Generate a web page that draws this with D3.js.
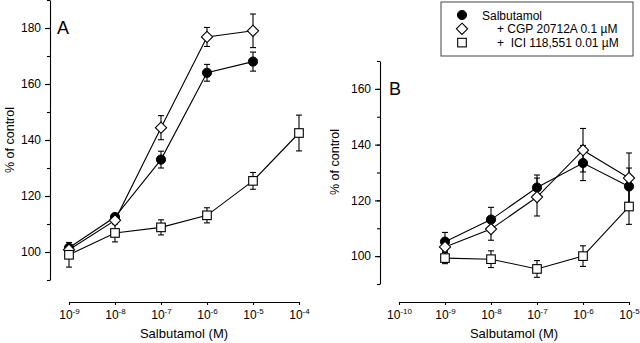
<!DOCTYPE html>
<html>
<head>
<meta charset="utf-8">
<script src="https://cdn.jsdelivr.net/npm/d3@7"></script>
<style>
  body { margin: 0; background: #fff; }
  svg { display: block; font-family: "Liberation Sans", Arial, sans-serif; }
</style>
</head>
<body>
<div id="chart"></div>
<script>
// concentrations (M)
const concA = [1e-9, 1e-8, 1e-7, 1e-6, 1e-5];
const concIciA = [1e-9, 1e-8, 1e-7, 1e-6, 1e-5, 1e-4];
const concB = [1e-9, 1e-8, 1e-7, 1e-6, 1e-5];

// panel A
const salA = [101.5, 112.5, 133, 164, 168];
const salAErr = [1, 1, 3, 3, 3.4];
const cgpA = [100.8, 111.3, 144.4, 176.8, 179];
const cgpAErr = [1, 1, 4.3, 3.4, 6];
const iciA = [99, 106.8, 108.8, 113.1, 125.4, 142.5];
const iciAErr = [4.4, 3.2, 2.7, 2.7, 3, 6.4];

// panel B
const salB = [105.2, 113.1, 124.6, 133.4, 125];
const salBErr = [3.3, 4.4, 4.5, 6.3, 6.6];
const cgpB = [103.3, 109.7, 121.2, 138, 128];
const cgpBErr = [1.5, 4, 6.8, 7.8, 9];
const iciB = [99.3, 98.9, 95.4, 100, 117.8];
const iciBErr = [2, 3, 3, 3.7, 6.4];

const legendLabels = ["Salbutamol", "+ CGP 20712A 0.1 \u00b5M", "+  ICI 118,551 0.01 \u00b5M"];
const yTicksA = [100, 120, 140, 160, 180];
const yTicksB = [100, 120, 140, 160];

const width = 640, height = 343;

const svg = d3.select("#chart").append("svg")
    .attr("width", width)
    .attr("height", height);

function zip(xs, ys, es) {
    return xs.map(function (x, i) { return {x: x, y: ys[i], e: es[i]}; });
}

function drawMarker(g, kind, cx, cy) {
    if (kind === "circle") {
        g.append("circle").attr("cx", cx).attr("cy", cy).attr("r", 4.6)
            .attr("fill", "#000").attr("stroke", "#000").attr("stroke-width", 1);
    } else if (kind === "diamond") {
        const s = 5.6;
        g.append("path")
            .attr("d", "M" + cx + "," + (cy - s) + "L" + (cx + s) + "," + cy + "L" + cx + "," + (cy + s) + "L" + (cx - s) + "," + cy + "Z")
            .attr("fill", "#fff").attr("stroke", "#000").attr("stroke-width", 1.1);
    } else {
        const s = 4.3;
        g.append("rect").attr("x", cx - s).attr("y", cy - s).attr("width", 2 * s).attr("height", 2 * s)
            .attr("fill", "#fff").attr("stroke", "#000").attr("stroke-width", 1.1);
    }
}

function drawPanel(p) {
    const x = d3.scaleLog().domain(p.xDomain).range(p.xRange);
    const y = d3.scaleLinear().domain(p.yDomain).range(p.yRange);
    const g = svg.append("g");

    // y axis, minor ticks every 10
    const yAxis = d3.axisLeft(y)
        .tickValues(d3.range(p.yDomain[0], p.yDomain[1] + 1, 10))
        .tickSize(3)
        .tickFormat("")
        .tickSizeOuter(0);
    g.append("g").attr("transform", "translate(" + p.yAxisX + ",0)").call(yAxis);
    const yMajor = d3.axisLeft(y).tickValues(p.yTicks).tickSize(5).tickPadding(4).tickSizeOuter(0);
    const ym = g.append("g").attr("transform", "translate(" + p.yAxisX + ",0)").call(yMajor);
    ym.select(".domain").remove();

    // x axis with decade ticks
    const decades = d3.range(Math.log10(p.xDomain[0]), Math.log10(p.xDomain[1]) + 1).map(function (k) { return Math.pow(10, k); });
    const xAxis = d3.axisBottom(x).tickValues(decades).tickSize(3).tickSizeOuter(0).tickFormat("");
    const xa = g.append("g").attr("transform", "translate(0," + p.xAxisY + ")").call(xAxis);

    xa.selectAll(".tick").each(function (d) {
        const t = d3.select(this).append("text")
            .attr("y", 17)
            .attr("fill", "#000")
            .attr("text-anchor", "middle")
            .style("font-size", "12px");
        t.append("tspan").text("10");
        t.append("tspan").attr("dy", -5).style("font-size", "8px").text(Math.round(Math.log10(d)));
    });

    g.selectAll(".tick text").style("font-size", "12px");
    g.selectAll(".domain, .tick line").attr("stroke", "#000").attr("stroke-width", 1.1);

    // axis titles
    g.append("text")
        .attr("x", (p.xRange[0] + p.xRange[1]) / 2)
        .attr("y", 338)
        .attr("text-anchor", "middle")
        .style("font-size", "13px")
        .text("Salbutamol (M)");
    g.append("text")
        .attr("transform", "translate(" + p.yLabelX + "," + p.yLabelY + ") rotate(-90)")
        .attr("text-anchor", "middle")
        .style("font-size", "12.5px")
        .text("% of control");

    // panel letter
    g.append("text")
        .attr("x", p.letterX).attr("y", p.letterY)
        .style("font-size", "18px")
        .text(p.letter);

    const line = d3.line()
        .x(function (d) { return x(d.x); })
        .y(function (d) { return y(d.y); });

    p.series.forEach(function (s) {
        g.append("path").datum(s.data)
            .attr("fill", "none").attr("stroke", "#000").attr("stroke-width", 1.1)
            .attr("d", line);
    });

    // error bars
    p.series.forEach(function (s) {
        s.data.forEach(function (d) {
            const cx = x(d.x), y0 = y(d.y - d.e), y1 = y(d.y + d.e);
            g.append("line").attr("x1", cx).attr("x2", cx).attr("y1", y0).attr("y2", y1)
                .attr("stroke", "#000").attr("stroke-width", 1.1);
            [y0, y1].forEach(function (yy) {
                g.append("line").attr("x1", cx - 3).attr("x2", cx + 3).attr("y1", yy).attr("y2", yy)
                    .attr("stroke", "#000").attr("stroke-width", 1.1);
            });
        });
    });

    p.series.forEach(function (s) {
        s.data.forEach(function (d) {
            drawMarker(g, s.marker, x(d.x), y(d.y));
        });
    });
}

drawPanel({
    xDomain: [1e-9, 1e-4], xRange: [69, 299],
    yDomain: [90, 190], yRange: [280, 0],
    yTicks: yTicksA, yAxisX: 50, xAxisY: 302,
    yLabelX: 13.5, yLabelY: 140,
    letter: "A", letterX: 57, letterY: 34,
    series: [
        {marker: "circle", data: zip(concA, salA, salAErr)},
        {marker: "diamond", data: zip(concA, cgpA, cgpAErr)},
        {marker: "square", data: zip(concIciA, iciA, iciAErr)}
    ]
});

drawPanel({
    xDomain: [1e-10, 1e-5], xRange: [399, 629],
    yDomain: [90, 170], yRange: [284, 61],
    yTicks: yTicksB, yAxisX: 380, xAxisY: 302,
    yLabelX: 338.5, yLabelY: 162,
    letter: "B", letterX: 389, letterY: 95,
    series: [
        {marker: "circle", data: zip(concB, salB, salBErr)},
        {marker: "diamond", data: zip(concB, cgpB, cgpBErr)},
        {marker: "square", data: zip(concB, iciB, iciBErr)}
    ]
});

// legend
const leg = svg.append("g");
leg.append("rect")
    .attr("x", 441).attr("y", 2).attr("width", 192).attr("height", 54)
    .attr("fill", "#fff").attr("stroke", "#444").attr("stroke-width", 1);
const legMarkers = ["circle", "diamond", "square"];
const legTextX = [482, 497, 497];
legendLabels.forEach(function (lab, i) {
    const ly = 15 + i * 13.8;
    drawMarker(leg, legMarkers[i], 462, ly);
    leg.append("text")
        .attr("x", legTextX[i]).attr("y", ly + 4.5)
        .style("font-size", "12px")
        .style("white-space", "pre")
        .attr("xml:space", "preserve")
        .text(lab);
});
</script>
</body>
</html>
